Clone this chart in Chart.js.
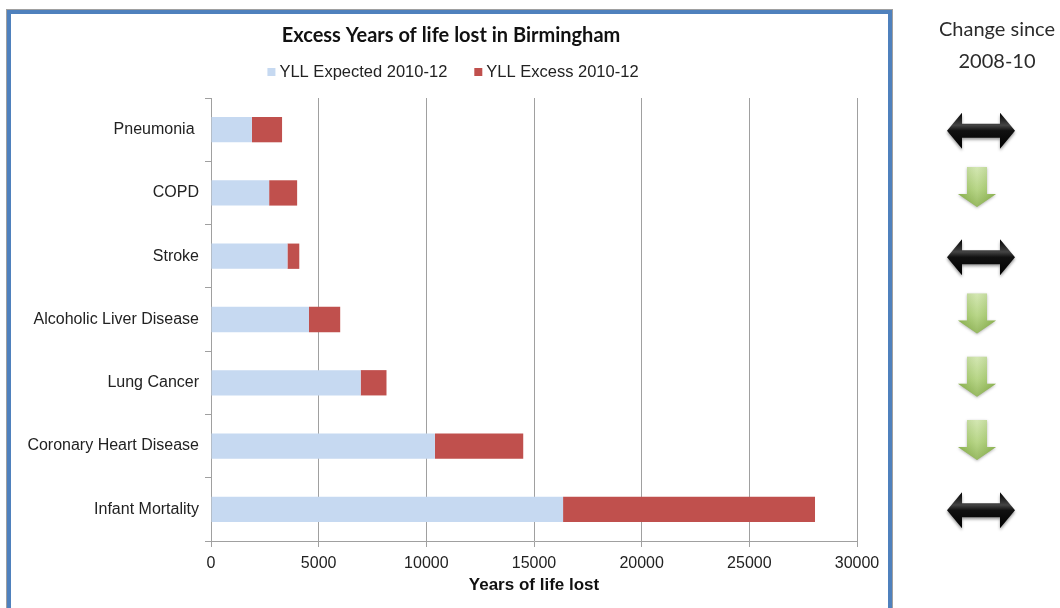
<!DOCTYPE html>
<html>
<head>
<meta charset="utf-8">
<title>Excess Years of life lost in Birmingham</title>
<script src="https://cdn.jsdelivr.net/npm/chart.js@4.4.0/dist/chart.umd.min.js"></script>
<style>
  html, body { margin: 0; padding: 0; background: #fff; }
  #wrap { position: relative; width: 1060px; height: 608px; }
</style>
</head>
<body>
<div id="wrap"><canvas id="yllChart" width="1060" height="608"></canvas></div>
<script>
const categories = ['Pneumonia ', 'COPD', 'Stroke', 'Alcoholic Liver Disease', 'Lung Cancer', 'Coronary Heart Disease', 'Infant Mortality'];
const expected = [1900, 2700, 3550, 4550, 6950, 10400, 16350];
const excess = [1400, 1300, 550, 1450, 1200, 4100, 11700];
// direction of change since 2008-10, one per category
const change = ['same', 'down', 'same', 'down', 'down', 'down', 'same'];
const xTicks = [0, 5000, 10000, 15000, 20000, 25000, 30000];

const chartTitle = 'Excess Years of life lost in Birmingham';
const labelFont = '"Liberation Sans", Arial, sans-serif';

// green "down" arrow
function downArrow(ctx, cx, cy) {
  const sw = 10, hw = 19, top = cy - 20, neck = cy + 7, tip = cy + 20;
  ctx.save();
  ctx.beginPath();
  ctx.moveTo(cx - sw, top);
  ctx.lineTo(cx + sw, top);
  ctx.lineTo(cx + sw, neck);
  ctx.lineTo(cx + hw, neck);
  ctx.lineTo(cx, tip);
  ctx.lineTo(cx - hw, neck);
  ctx.lineTo(cx - sw, neck);
  ctx.closePath();
  ctx.shadowColor = 'rgba(0,0,0,0.3)';
  ctx.shadowBlur = 3;
  ctx.shadowOffsetY = 1;
  const g = ctx.createLinearGradient(0, top, 0, tip);
  g.addColorStop(0, '#c9e1a0');
  g.addColorStop(0.55, '#a7cc6b');
  g.addColorStop(1, '#7ea83c');
  ctx.fillStyle = g;
  ctx.fill();
  ctx.shadowColor = 'transparent';
  // soft highlight down the middle
  const h = ctx.createLinearGradient(cx - hw, 0, cx + hw, 0);
  h.addColorStop(0, 'rgba(90,130,40,0.25)');
  h.addColorStop(0.5, 'rgba(255,255,255,0.2)');
  h.addColorStop(1, 'rgba(90,130,40,0.25)');
  ctx.fillStyle = h;
  ctx.fill();
  ctx.restore();
}

// black two-headed "no change" arrow
function sameArrow(ctx, cx, cy) {
  const half = 34, head = 15, sh = 7, hh = 18;
  ctx.save();
  ctx.shadowColor = 'rgba(0,0,0,0.4)';
  ctx.shadowBlur = 3;
  ctx.shadowOffsetY = 2;
  const g = ctx.createLinearGradient(0, cy - hh, 0, cy + hh);
  g.addColorStop(0, '#000');
  g.addColorStop(0.35, '#444');
  g.addColorStop(0.5, '#111');
  g.addColorStop(1, '#000');
  ctx.fillStyle = g;
  ctx.beginPath();
  ctx.moveTo(cx - half, cy);
  ctx.lineTo(cx - half + head, cy - hh);
  ctx.lineTo(cx - half + head, cy - sh);
  ctx.lineTo(cx + half - head, cy - sh);
  ctx.lineTo(cx + half - head, cy - hh);
  ctx.lineTo(cx + half, cy);
  ctx.lineTo(cx + half - head, cy + hh);
  ctx.lineTo(cx + half - head, cy + sh);
  ctx.lineTo(cx - half + head, cy + sh);
  ctx.lineTo(cx - half + head, cy + hh);
  ctx.closePath();
  ctx.fill();
  ctx.restore();
}

// title + legend centred over the framed area, not over the whole canvas
function drawHeader(chart) {
  const ctx = chart.ctx;
  const cx = 451;
  ctx.save();
  ctx.fillStyle = '#111';
  ctx.font = 'bold 20px Lato, "Open Sans", sans-serif';
  ctx.textAlign = 'center';
  ctx.textBaseline = 'middle';
  ctx.fillText(chartTitle, cx, 36);

  ctx.font = '16.5px ' + labelFont;
  ctx.textAlign = 'left';
  const box = 8, gap = 4, spacing = 27;
  const items = chart.data.datasets.map(ds => ({ text: ds.label, color: ds.backgroundColor, w: ctx.measureText(ds.label).width }));
  const total = items.reduce((s, it) => s + box + gap + it.w, 0) + spacing * (items.length - 1);
  let x = cx + 2 - total / 2;
  items.forEach(it => {
    ctx.fillStyle = it.color;
    ctx.fillRect(x, 68, box, box);
    ctx.fillStyle = '#222';
    ctx.fillText(it.text, x + box + gap, 72);
    x += box + gap + it.w + spacing;
  });
  ctx.restore();
}

const frameAndArrows = {
  id: 'frameAndArrows',
  beforeDraw(chart) {
    const ctx = chart.ctx;
    ctx.save();
    ctx.fillStyle = '#fff';
    ctx.fillRect(0, 0, chart.width, chart.height);
    ctx.restore();
  },
  afterDraw(chart) {
    const ctx = chart.ctx;
    const y = chart.scales.y;
    ctx.save();
    // blue chart frame
    ctx.strokeStyle = '#a0a0a0';
    ctx.lineWidth = 1;
    ctx.strokeRect(6.5, 9.5, 886, 640);
    ctx.strokeStyle = '#4f81bd';
    ctx.lineWidth = 4;
    ctx.strokeRect(9, 12, 881, 640);

    // side heading
    ctx.fillStyle = '#2b2b2b';
    ctx.font = '20px Lato, "Open Sans", sans-serif';
    ctx.textAlign = 'center';
    ctx.textBaseline = 'middle';
    ctx.fillText('Change since', 997, 30);
    ctx.fillText('2008-10', 997, 62);
    ctx.restore();

    drawHeader(chart);

    change.forEach((c, i) => {
      const cy = y.getPixelForValue(i);
      if (c === 'down') downArrow(ctx, 977, cy - 6);
      else sameArrow(ctx, 981, cy + 1);
    });
  }
};

new Chart(document.getElementById('yllChart'), {
  type: 'bar',
  data: {
    labels: categories,
    datasets: [
      { label: 'YLL Expected 2010-12', data: expected, backgroundColor: '#c6d9f1' },
      { label: 'YLL Excess 2010-12', data: excess, backgroundColor: '#c0504d' }
    ]
  },
  options: {
    indexAxis: 'y',
    responsive: false,
    animation: false,
    barPercentage: 0.8,
    categoryPercentage: 0.5,
    layout: { padding: { left: 0, right: 203, top: 98, bottom: 12 } },
    plugins: {
      title: { display: false },
      legend: { display: false },
      tooltip: { enabled: false }
    },
    scales: {
      x: {
        stacked: true,
        min: 0,
        max: 30000,
        afterBuildTicks(scale) { scale.ticks = xTicks.map(v => ({ value: v })); },
        afterFit(scale) { scale.height = 55; },
        grid: { color: '#a0a0a0', tickLength: 6, lineWidth: 1 },
        border: { color: '#a0a0a0' },
        ticks: {
          color: '#222',
          padding: 7,
          maxRotation: 0,
          callback: v => String(v),
          font: { family: labelFont, size: 16 }
        },
        title: {
          display: true,
          text: 'Years of life lost',
          color: '#111',
          font: { family: labelFont, size: 17, weight: 'bold' },
          padding: { top: 2, bottom: 0 }
        }
      },
      y: {
        stacked: true,
        afterFit(scale) { scale.width = 211; },
        grid: { drawOnChartArea: false, color: '#a0a0a0', tickLength: 6, offset: true },
        border: { color: '#a0a0a0' },
        ticks: {
          color: '#222',
          padding: 6,
          font: { family: labelFont, size: 16 }
        }
      }
    }
  },
  plugins: [frameAndArrows]
});
</script>
</body>
</html>
